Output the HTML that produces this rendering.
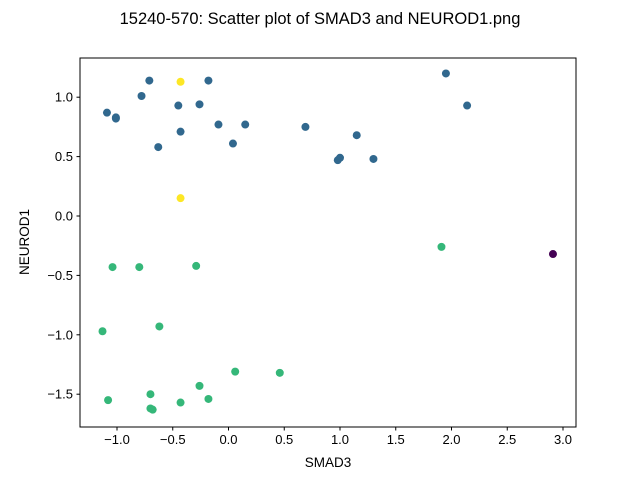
<!DOCTYPE html>
<html><head><meta charset="utf-8"><style>
html,body{margin:0;padding:0;background:#fff;}
svg{display:block;font-family:"Liberation Sans","DejaVu Sans",sans-serif;}
</style></head><body>
<svg id="chart" width="640" height="480" viewBox="0 0 640 480">
<text x="320" y="24" text-anchor="middle" font-size="16.5">15240-570: Scatter plot of SMAD3 and NEUROD1.png</text>
<rect x="80" y="58" width="496" height="369" fill="none" stroke="#000" stroke-width="1"/>
<g id="xt"></g>
<g id="yt"></g>
<g id="pts"></g>
<text x="328" y="467" text-anchor="middle" font-size="13.5">SMAD3</text>
<text x="29" y="242" text-anchor="middle" font-size="13.5" transform="rotate(-90 29 242)">NEUROD1</text>
</svg>
<script>
const xTicks=[-1.0,-0.5,0.0,0.5,1.0,1.5,2.0,2.5,3.0];
const xTickLabels=["−1.0","−0.5","0.0","0.5","1.0","1.5","2.0","2.5","3.0"];
const yTicks=[1.0,0.5,0.0,-0.5,-1.0,-1.5];
const yTickLabels=["1.0","0.5","0.0","−0.5","−1.0","−1.5"];
const xs=[1.95,2.14,-0.71,-0.18,-0.78,-1.09,-1.01,-1.01,-0.45,-0.26,-0.09,0.15,-0.43,0.69,1.15,-0.63,0.04,0.98,1.00,1.30,
-0.43,-0.43,2.91,
1.91,-1.04,-0.80,-0.29,-1.13,-0.62,0.06,0.46,-0.26,-0.70,-1.08,-0.18,-0.43,-0.70,-0.68];
const ys=[1.20,0.93,1.14,1.14,1.01,0.87,0.83,0.82,0.93,0.94,0.77,0.77,0.71,0.75,0.68,0.58,0.61,0.47,0.49,0.48,
1.13,0.15,-0.32,
-0.26,-0.43,-0.43,-0.42,-0.97,-0.93,-1.31,-1.32,-1.43,-1.50,-1.55,-1.54,-1.57,-1.62,-1.63];
const groups=[1,1,1,1,1,1,1,1,1,1,1,1,1,1,1,1,1,1,1,1,3,3,0,2,2,2,2,2,2,2,2,2,2,2,2,2,2,2];
const palette=["#440154","#31688e","#35b779","#fde725"];
const X=v=>228.5+v*111.5, Y=v=>216-v*118.8;
const NS="http://www.w3.org/2000/svg";
const xt=document.getElementById('xt'), yt=document.getElementById('yt'), pts=document.getElementById('pts');
xTicks.forEach((t,i)=>{
 const l=document.createElementNS(NS,'line');
 l.setAttribute('x1',X(t));l.setAttribute('x2',X(t));l.setAttribute('y1',427);l.setAttribute('y2',430.5);l.setAttribute('stroke','#000');
 
 
 xt.appendChild(l);
 const s=document.createElementNS(NS,'text');
 s.setAttribute('x',X(t));s.setAttribute('y',444);s.setAttribute('text-anchor','middle');s.setAttribute('font-size','13');
 s.textContent=xTickLabels[i];
 
 
 xt.appendChild(s);
});
yTicks.forEach((t,i)=>{
 const l=document.createElementNS(NS,'line');
 l.setAttribute('x1',76.5);l.setAttribute('x2',80);l.setAttribute('y1',Y(t));l.setAttribute('y2',Y(t));l.setAttribute('stroke','#000');
 
 
 yt.appendChild(l);
 const s=document.createElementNS(NS,'text');
 s.setAttribute('x',73);s.setAttribute('y',Y(t)+4.5);s.setAttribute('text-anchor','end');s.setAttribute('font-size','13');
 s.textContent=yTickLabels[i];
 
 
 yt.appendChild(s);
});
xs.forEach((v,i)=>{
 const c=document.createElementNS(NS,'circle');
 c.setAttribute('cx',X(v));c.setAttribute('cy',Y(ys[i]));c.setAttribute('r',4);c.setAttribute('fill',palette[groups[i]]);
 
 
 pts.appendChild(c);
});
</script>
</body></html>
